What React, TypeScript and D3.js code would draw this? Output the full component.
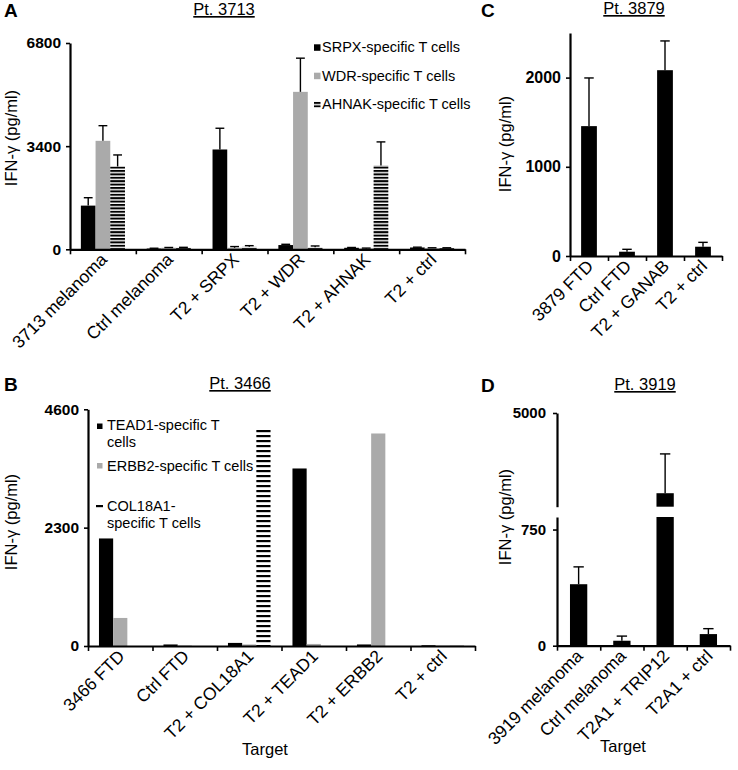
import React, { useEffect, useRef } from 'react';
import * as d3 from 'd3';

const FONT = '"Liberation Sans", Arial, Helvetica, sans-serif';
const GRAY = '#aaaaaa';

// Panel A - Pt. 3713
const catsA = ['3713 melanoma', 'Ctrl melanoma', 'T2 + SRPX', 'T2 + WDR', 'T2 + AHNAK', 'T2 + ctrl'];
const srpxA = [1440, 25, 3290, 140, 50, 60];
const srpxErrA = [260, 10, 700, 25, 10, 10];
const wdrA = [3575, 50, 50, 5190, 30, 40];
const wdrErrA = [500, 10, 40, 1110, 10, 10];
const ahnakA = [2730, 55, 80, 70, 2760, 40];
const ahnakErrA = [380, 10, 40, 40, 780, 10];
const ticksA = [0, 3400, 6800];

// Panel B - Pt. 3466
const catsB = ['3466 FTD', 'Ctrl FTD', 'T2 + COL18A1', 'T2 + TEAD1', 'T2 + ERBB2', 'T2 + ctrl'];
const tead1B = [2090, 30, 60, 3450, 30, 15];
const erbb2B = [545, 10, 30, 40, 4130, 10];
const col18a1B = [0, 0, 4230, 0, 0, 5];
const ticksB = [0, 2300, 4600];

// Panel C - Pt. 3879
const catsC = ['3879 FTD', 'Ctrl FTD', 'T2 + GANAB', 'T2 + ctrl'];
const valuesC = [1456, 48, 2083, 104];
const errC = [540, 27, 328, 49];
const ticksC = [0, 1000, 2000];

// Panel D - Pt. 3919 (broken axis)
const catsD = ['3919 melanoma', 'Ctrl melanoma', 'T2A1 + TRIP12', 'T2A1 + ctrl'];
const valuesD = [397, 32, 1490, 75];
const errD = [112, 30, 1720, 35];
const ticksDLow = [0, 750];
const ticksDHigh = [5000];

type Series = { name: string; values: number[]; errors?: number[]; fill: string };

type PanelCfg = {
  cats: string[];
  series: Series[];
  x0: number;
  x1: number;
  y0: number;
  yTop: number;
  yMax: number;
  yTicks: number[];
  pad: number;
  tickFont: number;
};

const LABEL_SIZE = 17.5;

function styleAxis(sel: any, fontSize: number) {
  sel.select('.domain').attr('stroke', '#000').attr('stroke-width', 2.2);
  sel.selectAll('.tick line').attr('stroke', '#000').attr('stroke-width', 1.6);
  sel.selectAll('.tick text')
    .attr('fill', '#000')
    .attr('font-family', FONT)
    .attr('font-weight', 'bold')
    .attr('font-size', fontSize);
}

function drawXAxis(g: any, cats: string[], x: d3.ScaleBand<string>, x0: number, x1: number, y0: number) {
  const xl = d3.scaleLinear().domain([0, cats.length]).range([x0, x1]);
  const ax = g.append('g')
    .attr('transform', `translate(0,${y0})`)
    .call(d3.axisBottom(xl).tickValues(d3.range(cats.length + 1)).tickSize(5).tickSizeOuter(0).tickFormat(() => ''));
  styleAxis(ax, 12);

  // rotated category labels, ending just under the band centre
  g.append('g').selectAll('text').data(cats).join('text')
    .attr('transform', (c: string) => `translate(${(x(c) as number) + x.bandwidth() / 2 + 1},${y0 + 7}) rotate(-45)`)
    .attr('text-anchor', 'end')
    .attr('dy', '0.35em')
    .attr('font-family', FONT)
    .attr('font-size', LABEL_SIZE)
    .text((c: string) => c);
}

function drawErrors(g: any, cats: string[], xs: (c: string) => number, w: number, vals: number[], errs: number[], y: any) {
  const eg = g.append('g').attr('stroke', '#000').attr('stroke-width', 1.4);
  cats.forEach((c, i) => {
    const cx = xs(c) + w / 2;
    const top = y(vals[i] + errs[i]);
    eg.append('line').attr('x1', cx).attr('x2', cx).attr('y1', y(vals[i])).attr('y2', top);
    eg.append('line').attr('x1', cx - w * 0.3).attr('x2', cx + w * 0.3).attr('y1', top).attr('y2', top);
  });
}

function drawPanel(root: any, cfg: PanelCfg) {
  const g = root.append('g');
  const y = d3.scaleLinear().domain([0, cfg.yMax]).range([cfg.y0, cfg.yTop]);
  const x = d3.scaleBand<string>().domain(cfg.cats).range([cfg.x0, cfg.x1])
    .paddingInner(cfg.pad).paddingOuter(cfg.pad / 2);
  const inner = d3.scaleBand<string>().domain(cfg.series.map(s => s.name)).range([0, x.bandwidth()]);

  cfg.series.forEach(s => {
    const xs = (c: string) => (x(c) as number) + (inner(s.name) as number);
    g.append('g').selectAll('rect').data(cfg.cats).join('rect')
      .attr('x', (c: string) => xs(c))
      .attr('y', (_: string, i: number) => y(s.values[i]))
      .attr('width', inner.bandwidth())
      .attr('height', (_: string, i: number) => cfg.y0 - y(s.values[i]))
      .attr('fill', s.fill);
    if (s.errors) drawErrors(g, cfg.cats, xs, inner.bandwidth(), s.values, s.errors, y);
  });

  const ay = g.append('g')
    .attr('transform', `translate(${cfg.x0},0)`)
    .call(d3.axisLeft(y).tickValues(cfg.yTicks).tickSize(4).tickSizeOuter(0).tickPadding(5).tickFormat(d3.format('d')));
  styleAxis(ay, cfg.tickFont);

  drawXAxis(g, cfg.cats, x, cfg.x0, cfg.x1, cfg.y0);
}

function drawPanelD(root: any) {
  const g = root.append('g');
  const x0 = 557, x1 = 730, y0 = 645.7;
  const yLow = d3.scaleLinear().domain([0, 831]).range([y0, 517]);
  const yHigh = d3.scaleLinear().domain([900, 5000]).range([506.7, 413]);
  const x = d3.scaleBand<string>().domain(catsD).range([x0, x1]).paddingInner(0.6).paddingOuter(0.3);
  const w = x.bandwidth();
  const brk = yLow.domain()[1];

  catsD.forEach((c, i) => {
    const v = valuesD[i];
    const bx = x(c) as number;
    g.append('rect').attr('x', bx).attr('width', w)
      .attr('y', yLow(Math.min(v, brk))).attr('height', y0 - yLow(Math.min(v, brk))).attr('fill', '#000');
    let ys: any = yLow;
    if (v > brk) {
      g.append('rect').attr('x', bx).attr('width', w)
        .attr('y', yHigh(v)).attr('height', yHigh(yHigh.domain()[0]) - yHigh(v)).attr('fill', '#000');
      ys = yHigh;
    }
    drawErrors(g, [c], (cc: string) => x(cc) as number, w, [v], [errD[i]], ys);
  });

  const a1 = g.append('g').attr('transform', `translate(${x0},0)`)
    .call(d3.axisLeft(yLow).tickValues(ticksDLow).tickSize(4).tickSizeOuter(0).tickPadding(7).tickFormat(d3.format('d')));
  styleAxis(a1, 15);
  const a2 = g.append('g').attr('transform', `translate(${x0},0)`)
    .call(d3.axisLeft(yHigh).tickValues(ticksDHigh).tickSize(4).tickSizeOuter(0).tickPadding(7).tickFormat(d3.format('d')));
  styleAxis(a2, 15);

  drawXAxis(g, catsD, x, x0, x1, y0);
}

function addText(root: any, x: number, y: number, text: string, size: number, opts: any = {}) {
  const t = root.append('text')
    .attr('x', x).attr('y', y)
    .attr('font-family', FONT)
    .attr('font-size', size)
    .attr('text-anchor', opts.anchor || 'start')
    .attr('font-weight', opts.bold ? 'bold' : 'normal')
    .attr('text-decoration', opts.underline ? 'underline' : null)
    .text(text);
  if (opts.rotate) t.attr('transform', `rotate(${opts.rotate},${x},${y})`);
  return t;
}

export default function App() {
  const svgRef = useRef<SVGSVGElement>(null);

  useEffect(() => {
    if (!svgRef.current) return;
    const svg = d3.select(svgRef.current);
    svg.selectAll('*').remove();

    const defs = svg.append('defs');
    const hatch = (id: string, period: number, line: number) => {
      const p = defs.append('pattern').attr('id', id).attr('patternUnits', 'userSpaceOnUse')
        .attr('width', 8).attr('height', period);
      p.append('rect').attr('width', 8).attr('height', period).attr('fill', '#fff');
      p.append('rect').attr('width', 8).attr('height', line).attr('fill', '#000');
    };
    hatch('hatchA', 3.4, 2);
    hatch('hatchB', 5, 2.2);

    svg.append('rect').attr('width', 738).attr('height', 770).attr('fill', '#fff');

    // Panel A
    drawPanel(svg, {
      cats: catsA,
      series: [
        { name: 'SRPX', values: srpxA, errors: srpxErrA, fill: '#000' },
        { name: 'WDR', values: wdrA, errors: wdrErrA, fill: GRAY },
        { name: 'AHNAK', values: ahnakA, errors: ahnakErrA, fill: 'url(#hatchA)' },
      ],
      x0: 70, x1: 465, y0: 249.3, yTop: 43, yMax: 6800, yTicks: ticksA, pad: 0.33, tickFont: 15.5,
    });

    // Panel B
    drawPanel(svg, {
      cats: catsB,
      series: [
        { name: 'TEAD1', values: tead1B, fill: '#000' },
        { name: 'ERBB2', values: erbb2B, fill: GRAY },
        { name: 'COL18A1', values: col18a1B, fill: 'url(#hatchB)' },
      ],
      x0: 88, x1: 475, y0: 646, yTop: 409.3, yMax: 4600, yTicks: ticksB, pad: 0.34, tickFont: 15.5,
    });

    // Panel C
    drawPanel(svg, {
      cats: catsC,
      series: [{ name: 'GANAB', values: valuesC, errors: errC, fill: '#000' }],
      x0: 570, x1: 722, y0: 256, yTop: 33, yMax: 2500, yTicks: ticksC, pad: 0.585, tickFont: 16,
    });

    // Panel D
    drawPanelD(svg);

    // Panel letters and titles
    addText(svg, 4, 17, 'A', 19, { bold: true });
    addText(svg, 4, 391, 'B', 19, { bold: true });
    addText(svg, 481, 17, 'C', 19, { bold: true });
    addText(svg, 481, 392, 'D', 19, { bold: true });
    addText(svg, 224, 15, 'Pt. 3713', 16.5, { anchor: 'middle', underline: true });
    addText(svg, 240, 389, 'Pt. 3466', 16.5, { anchor: 'middle', underline: true });
    addText(svg, 634, 14, 'Pt. 3879', 16.5, { anchor: 'middle', underline: true });
    addText(svg, 645, 390, 'Pt. 3919', 16.5, { anchor: 'middle', underline: true });

    // Y labels
    addText(svg, 17, 138, 'IFN-γ (pg/ml)', 16.5, { anchor: 'middle', rotate: -90 });
    addText(svg, 17, 522, 'IFN-γ (pg/ml)', 16.5, { anchor: 'middle', rotate: -90 });
    addText(svg, 511, 144, 'IFN-γ (pg/ml)', 16.5, { anchor: 'middle', rotate: -90 });
    addText(svg, 511, 517, 'IFN-γ (pg/ml)', 16.5, { anchor: 'middle', rotate: -90 });

    // X titles
    addText(svg, 265, 755, 'Target', 16.5, { anchor: 'middle' });
    addText(svg, 623, 752, 'Target', 16.5, { anchor: 'middle' });

    // Legend A
    const legA = [
      { label: 'SRPX-specific T cells', fill: '#000', y: 52.3 },
      { label: 'WDR-specific T cells', fill: GRAY, y: 80.7 },
      { label: 'AHNAK-specific T cells', fill: 'url(#hatchA)', y: 109 },
    ];
    legA.forEach(l => {
      svg.append('rect').attr('x', 314).attr('y', l.y - 8).attr('width', 6.5).attr('height', 6.5).attr('fill', l.fill);
      addText(svg, 322, l.y, l.label, 14.5);
    });

    // Legend B
    svg.append('rect').attr('x', 97).attr('y', 423.5).attr('width', 5.5).attr('height', 5.5).attr('fill', '#000');
    addText(svg, 107, 430, 'TEAD1-specific T', 14.5);
    addText(svg, 107, 446.7, 'cells', 14.5);
    svg.append('rect').attr('x', 97).attr('y', 463).attr('width', 5.5).attr('height', 5.5).attr('fill', GRAY);
    addText(svg, 107, 471, 'ERBB2-specific T cells', 14.5);
    svg.append('rect').attr('x', 96).attr('y', 503).attr('width', 7).attr('height', 6).attr('fill', 'url(#hatchB)');
    addText(svg, 107, 511, 'COL18A1-', 14.5);
    addText(svg, 107, 527.7, 'specific T cells', 14.5);
  }, []);

  return (
    <div style={{ position: 'absolute', left: 0, top: 0 }}>
      <svg ref={svgRef} width={738} height={770} style={{ display: 'block' }} />
    </div>
  );
}
